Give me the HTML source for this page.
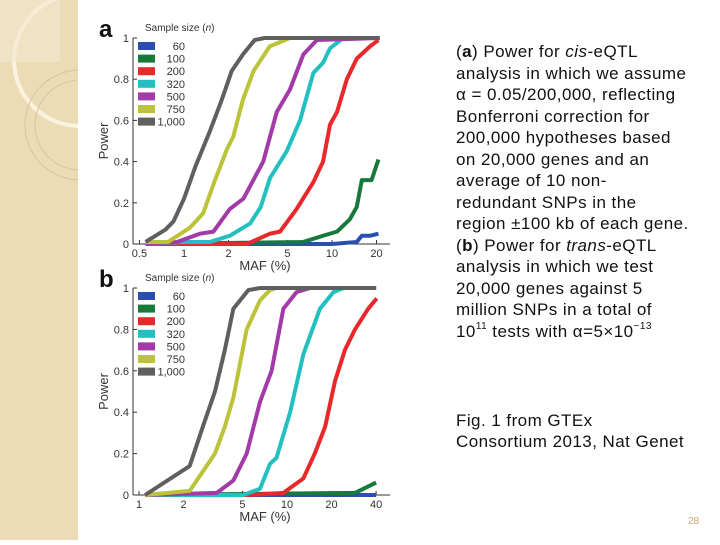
<!DOCTYPE html>
<html><head><meta charset="utf-8"><style>
body{margin:0;width:720px;height:540px;overflow:hidden;background:#fff;font-family:"Liberation Sans",sans-serif;position:relative}
#strip{position:absolute;left:0;top:0;width:78px;height:540px;background:#ecdcb6}
#txt{position:absolute;left:456px;top:41px;white-space:nowrap;font-size:17px;letter-spacing:0.45px;line-height:21.5px;color:#111}
#txt sup{font-size:10px;line-height:0;position:relative;top:-1px;vertical-align:super}
#pg{position:absolute;left:688px;top:516px;font-size:10px;color:#c8a870}
</style></head><body>
<div id="strip">
<svg width="78" height="540"><circle cx="80" cy="60" r="66" fill="none" stroke="#fbf3df" stroke-width="4"/><circle cx="80" cy="125" r="55" fill="none" stroke="#d8c49a" stroke-width="1"/><circle cx="80" cy="125" r="45" fill="none" stroke="#d8c49a" stroke-width="1"/><rect x="0" y="0" width="60" height="62" fill="#f3e8cf" opacity="0.6"/></svg>
</div>
<svg id="chart" width="720" height="540" style="position:absolute;left:0;top:0"></svg>
<div id="txt">(<b>a</b>) Power for <i>cis</i>-eQTL<br>analysis in which we assume<br>α = 0.05/200,000, reflecting<br>Bonferroni correction for<br>200,000 hypotheses based<br>on 20,000 genes and an<br>average of 10 non-<br>redundant SNPs in the<br>region ±100 kb of each gene.<br>(<b>b</b>) Power for <i>trans</i>-eQTL<br>analysis in which we test<br>20,000 genes against 5<br>million SNPs in a total of<br>10<sup>11</sup> tests with α=5×10<sup>−13</sup><br><br><br><br><span style="position:relative;top:3px">Fig. 1 from GTEx<br>Consortium 2013, Nat Genet</span></div>
<div id="pg">28</div>
<script>
const seriesNames=["60","100","200","320","500","750","1,000"];
const seriesColors=["#2a4fae","#177a3a","#e8282a","#22c0c0","#a23aa8","#bcc23a","#5f5f5f"];
const aTicks=[0.5,1,2,5,10,20];
const bTicks=[1,2,5,10,20,40];
const yTicks=[0,0.2,0.4,0.6,0.8,1];
const aX=[
 [0.55,10,14.7,15.9,18,20.6],
 [0.55,6.4,8.7,10.8,13.2,14.7,15.9,18.5,20.6],
 [0.55,2.66,3.81,4.45,5.77,7.48,8.7,9.7,10.8,12.6,14.7,18.1,20.6],
 [0.55,1.04,1.5,2.04,2.8,3.3,3.81,4.94,6.08,7.48,8.7,9.7,11.9,21],
 [0.55,0.9,1.28,1.58,2.04,2.52,3.43,4.23,5.2,6.4,7.9,21],
 [0.55,0.78,1.1,1.35,1.6,1.95,2.15,2.5,2.95,3.8,5.2,21],
 [0.55,0.75,0.85,1,1.2,1.5,1.8,2.1,2.5,3,3.5,5,10,21]];
const aY=[
 [0,0,0.01,0.04,0.04,0.05],
 [0,0.01,0.04,0.06,0.12,0.18,0.31,0.31,0.41],
 [0,0,0.05,0.06,0.17,0.3,0.4,0.58,0.64,0.8,0.9,0.96,0.99],
 [0,0.01,0.01,0.04,0.1,0.18,0.32,0.45,0.6,0.83,0.88,0.95,1,1],
 [0,0.01,0.05,0.06,0.17,0.22,0.4,0.64,0.75,0.92,0.99,1],
 [0.01,0.01,0.08,0.15,0.3,0.46,0.52,0.7,0.84,0.96,1,1],
 [0.01,0.07,0.11,0.22,0.38,0.55,0.7,0.84,0.92,0.99,1,1,1,1]];
const bX=[
 [1.1,40],
 [1.1,28.8,40],
 [1.1,5.6,9.45,12.9,15.4,18.1,21.1,24.6,28.8,35.4,40.4],
 [1.1,5.07,6.57,7.67,8.5,10.5,12.9,16.7,20.6,24,40],
 [1.1,3.35,4.34,5.34,6.57,7.87,9.45,11.6,14.3,40],
 [1.1,2.2,3.26,3.8,4.34,5.34,6.57,7.67,8.5,40],
 [1.1,2.2,2.7,3.26,3.8,4.34,5.48,6.6,40]];
const bY=[
 [0,0],
 [0,0.01,0.06],
 [0,0,0.01,0.08,0.2,0.33,0.55,0.7,0.8,0.9,0.95],
 [0,0,0.03,0.15,0.18,0.4,0.68,0.9,0.98,1,1],
 [0,0.01,0.07,0.2,0.45,0.6,0.9,0.98,1,1],
 [0,0.02,0.2,0.33,0.47,0.8,0.94,0.99,1,1],
 [0,0.14,0.33,0.5,0.7,0.9,0.99,1,1]];
const NS="http://www.w3.org/2000/svg";
const svg=document.getElementById('chart');
function mk(t,a,p){const e=document.createElementNS(NS,t);for(const k in a)e.setAttribute(k,a[k]);(p||svg).appendChild(e);return e;}
function panel(id,letter,x0,top,bottom,ticks,X,Y){
 const g=mk('g',{});
 
 
 const xs=v=>x0+148*Math.log10(v), ys=v=>bottom-(bottom-top)*v;
 const L=mk('text',{x:99,y:top-1,'font-size':24,'font-weight':'bold',fill:'#111'},g);L.textContent=letter;
 
 
 mk('line',{x1:133,y1:top,x2:133,y2:bottom,stroke:'#333','stroke-width':1},g);
 mk('line',{x1:133,y1:bottom,x2:390,y2:bottom,stroke:'#333','stroke-width':1},g);
 yTicks.forEach(v=>{mk('line',{x1:133,x2:137,y1:ys(v),y2:ys(v),stroke:'#333'},g);
  const t=mk('text',{x:129,y:ys(v)+4,'font-size':11,'text-anchor':'end',fill:'#333'},g);t.textContent=v===1?'1':v===0?'0':v.toFixed(1);
  
  });
 ticks.forEach(v=>{mk('line',{x1:xs(v),x2:xs(v),y1:bottom,y2:bottom-4,stroke:'#333'},g);
  const t=mk('text',{x:xs(v),y:bottom+13,'font-size':11,'text-anchor':'middle',fill:'#333'},g);t.textContent=v;
  
  });
 const yt=mk('text',{transform:`translate(108,${(top+bottom)/2}) rotate(-90)`,'font-size':13,'text-anchor':'middle',fill:'#333'},g);yt.textContent='Power';
 
 
 const xt=mk('text',{x:265,y:bottom+26,'font-size':13,'text-anchor':'middle',fill:'#333'},g);xt.textContent='MAF (%)';
 
 
 X.forEach((xa,i)=>{const p=mk('polyline',{points:xa.map((v,j)=>xs(v)+','+ys(Y[i][j])).join(' '),fill:'none',stroke:seriesColors[i],'stroke-width':4,'stroke-linejoin':'round'},g);
  
  });
 const lt=mk('text',{x:145,y:top-7,'font-size':10,fill:'#333'},g);lt.innerHTML='Sample size (<tspan font-style="italic">n</tspan>)';
 
 
 seriesNames.forEach((n,i)=>{const y=top+8+i*12.6;
  const r=mk('rect',{x:138,y:y-4,width:17,height:8,fill:seriesColors[i]},g);
  
  
  const t=mk('text',{x:185,y:y+4,'font-size':11,'text-anchor':'end',fill:'#333'},g);t.textContent=n;
  
  });
}
panel('a','a',184,38,244,aTicks,aX,aY);
panel('b','b',139,288,495,bTicks,bX,bY);
</script>
</body></html>
